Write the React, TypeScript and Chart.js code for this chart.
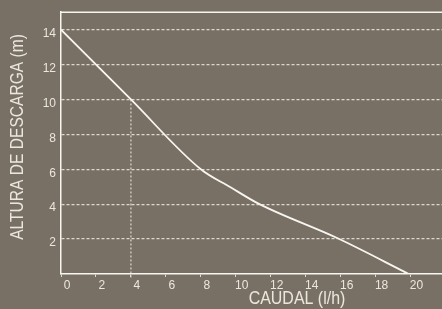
import React, { useEffect, useRef } from "react";
import { Chart, registerables } from "chart.js";

Chart.register(...registerables);

// Pump curve: flow (l/h) vs head (m)
const flowValues = [0, 4, 8, 9.7, 11.3, 15.8, 19.9];
const headValues = [14, 10, 6, 4.97, 4.03, 2.06, 0];

// Operating point guide line
const guideFlow = [4, 4];
const guideHead = [10, -0.25];

const xTicks = [0, 2, 4, 6, 8, 10, 12, 14, 16, 18, 20];
const yTicks = [2, 4, 6, 8, 10, 12, 14];

const xTitle = "CAUDAL (l/h)";
const yTitle = "ALTURA DE DESCARGA (m)";

const BG = "#787064";
const TEXT = "#ebe7df";
const LINE = "#f7f5f0";
const GRID = "#dcd8cf";
const FONT = "'Liberation Sans', Arial, sans-serif";

export default function App() {
  const ref = useRef<HTMLCanvasElement>(null);

  useEffect(() => {
    document.body.style.margin = "0";
    const canvas = ref.current!;
    const frame = {
      id: "frame",
      afterDraw(chart: any) {
        const { ctx, chartArea } = chart;
        ctx.save();
        ctx.strokeStyle = LINE;
        ctx.lineWidth = 1.5;
        ctx.beginPath();
        ctx.moveTo(chartArea.left, chartArea.top);
        ctx.lineTo(chartArea.right, chartArea.top);
        ctx.stroke();
        ctx.fillStyle = TEXT;
        ctx.font = `19px ${FONT}`;
        ctx.textAlign = "center";
        ctx.textBaseline = "middle";
        ctx.save();
        ctx.translate(297, 299);
        ctx.scale(0.84, 1);
        ctx.fillText(xTitle, 0, 0);
        ctx.restore();
        ctx.translate(18, 137);
        ctx.rotate(-Math.PI / 2);
        ctx.scale(0.82, 1);
        ctx.fillText(yTitle, 0, 0);
        ctx.restore();
      },
    };
    const chart = new Chart(canvas, {
      type: "line",
      data: {
        datasets: [
          {
            data: flowValues.map((x, i) => ({ x, y: headValues[i] })),
            borderColor: LINE,
            borderWidth: 1.8,
            pointRadius: 0,
            cubicInterpolationMode: "monotone",
            fill: false,
          },
          {
            data: guideFlow.map((x, i) => ({ x, y: guideHead[i] })),
            borderColor: GRID,
            borderWidth: 1.2,
            borderDash: [2, 2],
            pointRadius: 0,
            fill: false,
            clip: false as any,
          },
        ],
      },
      plugins: [frame],
      options: {
        responsive: false,
        animation: false,
        layout: { padding: { top: 12, left: 0, right: 0, bottom: 0 } },
        plugins: {
          legend: { display: false },
          tooltip: { enabled: false },
          title: { display: false },
        },
        scales: {
          x: {
            type: "linear",
            min: 0,
            max: 21.8,
            afterBuildTicks: (s: any) => {
              s.ticks = xTicks.map((v) => ({ value: v }));
            },
            afterFit: (s: any) => {
              s.height = 35;
            },
            ticks: {
              color: TEXT,
              font: { family: FONT, size: 12 },
              padding: 1,
              labelOffset: 6,
              maxRotation: 0,
              autoSkip: false,
            },
            grid: {
              drawOnChartArea: false,
              drawTicks: true,
              tickLength: 3,
              color: GRID,
            },
            border: { display: true, color: LINE, width: 1.5 },
          },
          y: {
            type: "linear",
            min: 0,
            max: 15,
            afterBuildTicks: (s: any) => {
              s.ticks = yTicks.map((v) => ({ value: v }));
            },
            afterFit: (s: any) => {
              s.width = 61;
            },
            ticks: {
              color: TEXT,
              font: { family: FONT, size: 12 },
              padding: 5,
              labelOffset: 4,
              autoSkip: false,
            },
            grid: {
              drawTicks: false,
              color: GRID,
              lineWidth: 1.2,
            },
            border: { display: true, color: LINE, width: 1.5, dash: [3, 2] },
          },
        },
      } as any,
    });
    return () => chart.destroy();
  }, []);

  return (
    <div style={{ width: 442, height: 309, background: BG, position: "relative" }}>
      <canvas ref={ref} width={442} height={309} style={{ display: "block" }} />
    </div>
  );
}
